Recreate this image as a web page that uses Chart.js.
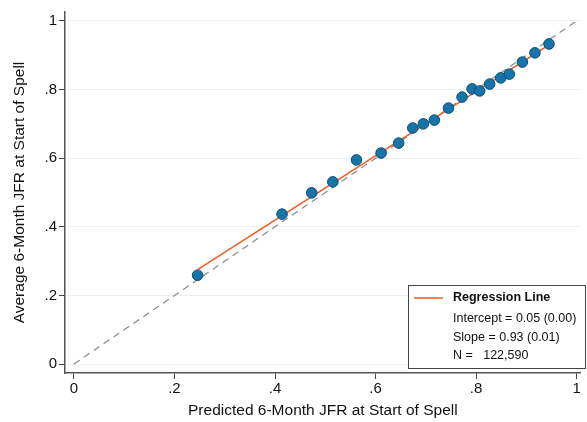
<!DOCTYPE html>
<html>
<head>
<meta charset="utf-8">
<script src="https://cdn.jsdelivr.net/npm/chart.js@4"></script>
<style>
  html, body { margin: 0; padding: 0; background: #fff; }
  #wrap { width: 587px; height: 422px; position: relative; }
</style>
</head>
<body>
<div id="wrap"><canvas id="chart"></canvas></div>
<script>
// binned scatter: predicted vs average JFR
const predicted = [0.246, 0.414, 0.473, 0.515, 0.562, 0.611, 0.646, 0.674, 0.695, 0.717,
                   0.745, 0.772, 0.792, 0.807, 0.827, 0.849, 0.866, 0.892, 0.917, 0.945];
const actual    = [0.259, 0.437, 0.499, 0.531, 0.595, 0.615, 0.644, 0.688, 0.700, 0.711,
                   0.746, 0.778, 0.802, 0.796, 0.816, 0.834, 0.845, 0.880, 0.907, 0.933];
const regLineX = [0.246, 0.945];
const regLineY = [0.275, 0.930];
const diagX = [0, 1];
const diagY = [0, 1];
const xTicks = [0, 0.2, 0.4, 0.6, 0.8, 1];
const yTicks = [0, 0.2, 0.4, 0.6, 0.8, 1];
const legendLines = ['Intercept = 0.05 (0.00)', 'Slope = 0.93 (0.01)', 'N =   122,590'];

const FONT = '"Liberation Sans", Arial, sans-serif';
const fmt = v => v === 0 ? '0' : (v === 1 ? '1' : String(+v.toFixed(1)).replace(/^0/, ''));
const pts = (xs, ys) => xs.map((x, i) => ({ x: x, y: ys[i] }));

const legendBox = {
  id: 'legendBox',
  afterDraw(chart) {
    const ctx = chart.ctx;
    ctx.save();
    ctx.fillStyle = '#fff';
    ctx.fillRect(408, 285, 177, 83);
    ctx.strokeStyle = '#444';
    ctx.lineWidth = 1;
    ctx.strokeRect(408.5, 285.5, 177, 83);
    ctx.strokeStyle = '#f25a1e';
    ctx.lineWidth = 1.5;
    ctx.beginPath();
    ctx.moveTo(414, 298);
    ctx.lineTo(443, 298);
    ctx.stroke();
    ctx.fillStyle = '#111';
    ctx.textBaseline = 'middle';
    ctx.font = 'bold 12.5px ' + FONT;
    ctx.fillText('Regression Line', 453, 298);
    ctx.font = '12.5px ' + FONT;
    legendLines.forEach((t, i) => ctx.fillText(t, 453, 319 + i * 18.5));
    ctx.restore();
  }
};

new Chart(document.getElementById('chart'), {
  type: 'scatter',
  data: {
    datasets: [
      {
        data: pts(predicted, actual),
        backgroundColor: '#1674a8',
        borderColor: '#0d4d75',
        borderWidth: 1,
        pointRadius: 5.3,
        order: 0
      },
      {
        type: 'line',
        data: pts(regLineX, regLineY),
        borderColor: '#f25a1e',
        borderWidth: 1.5,
        pointRadius: 0,
        order: 1
      },
      {
        type: 'line',
        data: pts(diagX, diagY),
        borderColor: '#8a8a8a',
        borderWidth: 1.2,
        borderDash: [7, 5],
        pointRadius: 0,
        order: 2
      }
    ]
  },
  options: {
    responsive: true,
    maintainAspectRatio: false,
    animation: false,
    layout: { padding: { top: 12, right: 0, left: 0, bottom: 0 } },
    plugins: { legend: { display: false }, tooltip: { enabled: false } },
    scales: {
      x: {
        type: 'linear',
        min: -0.0177,
        max: 1.008,
        afterBuildTicks: s => { s.ticks = xTicks.map(v => ({ value: v })); },
        afterFit: s => { s.height = 49; },
        grid: { drawOnChartArea: false, drawTicks: true, tickLength: 6, tickColor: '#444' },
        border: { display: true, color: '#555', width: 1.5 },
        ticks: { color: '#111', font: { family: FONT, size: 15 }, padding: 1, maxRotation: 0, callback: v => fmt(v) },
        title: { display: true, text: 'Predicted 6-Month JFR at Start of Spell', color: '#111',
                 font: { family: FONT, size: 15.5 }, padding: { top: 1, bottom: 2 } }
      },
      y: {
        type: 'linear',
        min: -0.026,
        max: 1.026,
        afterBuildTicks: s => { s.ticks = yTicks.map(v => ({ value: v })); },
        afterFit: s => { s.width = 65; },
        grid: { color: '#e8f0f2', lineWidth: 1, drawTicks: true, tickLength: 6, tickColor: '#444' },
        border: { display: true, color: '#555', width: 1.5 },
        ticks: { color: '#111', font: { family: FONT, size: 15 }, padding: 2, callback: v => fmt(v) },
        title: { display: true, text: 'Average 6-Month JFR at Start of Spell', color: '#111',
                 font: { family: FONT, size: 15.5 }, padding: { top: 10, bottom: 0 } }
      }
    }
  },
  plugins: [legendBox]
});
</script>
</body>
</html>
